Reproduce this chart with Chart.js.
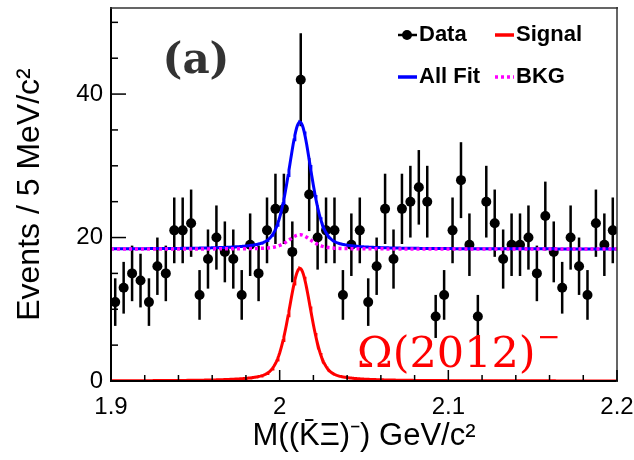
<!DOCTYPE html>
<html>
<head>
<meta charset="utf-8">
<script src="https://cdn.jsdelivr.net/npm/chart.js@4.4.0/dist/chart.umd.min.js"></script>
<style>
html,body{margin:0;padding:0;background:#fff;}
#wrap{position:relative;width:634px;height:460px;}
#wrap canvas{position:absolute;left:0;top:0;}
#frame{pointer-events:none;}
</style>
</head>
<body>
<div id="wrap">
<canvas id="grafico" width="634" height="460"></canvas>
<canvas id="frame" width="634" height="460"></canvas>
</div>
<script>
// DATA - events per 5 MeV bin, 1.9 to 2.2 GeV
const xMin = 1.9;
const xMax = 2.2;
const binWidth = 0.005;
const counts = [
11,13,15,14,11,16,15,21,21,22,12,17,20,18,17,12,19,15,21,24,
24,18,42,26,20,21,21,12,19,21,11,16,24,17,24,25,27,25,9,12,
21,28,19,9,25,22,17,19,19,20,15,23,18,13,20,16,12,22,19,21
];
const binCenters = counts.map((c,i)=>xMin + binWidth*(i+0.5));

// fit parameters
const peakMass = 2.012;
const peakFwhm = 0.016;
const lorentzFrac = 0.4;
const signalHeight = 15.7;
const bkgLevel = 18.4;
const bkgBump = 2.0;

// ticks
const yMajor = [0,20,40];
const yMinorStep = 5;
const yMax = 52;
const xMajor = [1.9,2.0,2.1,2.2];
const xTickLabels = ["1.9","2","2.1","2.2"];
const xMinorStep = 0.02;

// line shape (pseudo-Voigt, height 1 at the peak)
function peakShape(x){
const t = 2*(x-peakMass)/peakFwhm;
return lorentzFrac/(1+t*t) + (1-lorentzFrac)*Math.exp(-Math.LN2*t*t);
}

const curveX = [];
for(let i=0;i<=600;i++) curveX.push(xMin + i*(xMax-xMin)/600);
const sigCurve = curveX.map(x=>({x:x, y:signalHeight*peakShape(x)}));
const bkgCurve = curveX.map(x=>({x:x, y:bkgLevel + bkgBump*peakShape(x)}));
const allCurve = curveX.map(x=>({x:x, y:bkgLevel + (bkgBump+signalHeight)*peakShape(x)}));

/* =======================
   FRAME + TICKS (inside, ROOT style)
======================= */
function drawAxesBox(chart, ctx){
const xs = chart.scales.x, ys = chart.scales.y;
const L = xs.left, R = xs.right, T = ys.top, B = ys.bottom;
ctx.save();
ctx.fillStyle = "#000";
ctx.fillRect(L-1, T-1, 2, B-T+2);
ctx.fillRect(L-1, B-1, R-L+2, 2);
ctx.fillStyle = "#333";
ctx.fillRect(L-1, T-0.75, R-L+2, 1.5);
ctx.fillRect(R-0.75, T-1, 1.5, B-T+2);
ctx.fillStyle = "#000";
for(let v=0; v<=yMax; v+=yMinorStep){
const py = ys.getPixelForValue(v);
const len = yMajor.indexOf(v) >= 0 ? 15 : 7;
ctx.fillRect(L, py-0.75, len, 1.5);
}
const nx = Math.round((xMax-xMin)/xMinorStep);
for(let k=0; k<=nx; k++){
const v = xMin + k*xMinorStep;
const px = xs.getPixelForValue(v);
let major = false;
xMajor.forEach(m=>{ if(Math.abs(m-v)<1e-6) major = true; });
const len = major ? 11 : 6;
ctx.fillRect(px-0.75, B-len, 1.5, len);
}
ctx.restore();
}

/* =======================
   EXTRAS - error bars, legend, labels
======================= */
const extras = {
id:"extras",
beforeDatasetsDraw(chart){
const ctx = chart.ctx;
const xs = chart.scales.x, ys = chart.scales.y;
ctx.save();
ctx.fillStyle = "#000";
counts.forEach((c,i)=>{
const e = Math.sqrt(c);
const px = xs.getPixelForValue(binCenters[i]);
const y1 = ys.getPixelForValue(c+e);
const y2 = ys.getPixelForValue(Math.max(0,c-e));
ctx.fillRect(px-1.25, y1, 2.5, y2-y1);
});
ctx.restore();
},
afterDraw(chart){
const ctx = chart.ctx;
ctx.save();

// legend
const ds = chart.data.datasets;
ctx.font = "bold 22px 'Liberation Sans', Arial, sans-serif";
ctx.textBaseline = "middle";
const items = [
{d:ds[0], x:398, y:35},
{d:ds[1], x:495, y:35},
{d:ds[2], x:398, y:77},
{d:ds[3], x:495, y:77}
];
items.forEach(it=>{
ctx.strokeStyle = it.d.borderColor;
ctx.lineWidth = it.d.label==="Data" ? 2.5 : 3.5;
ctx.setLineDash(it.d.borderDash || []);
ctx.beginPath(); ctx.moveTo(it.x, it.y); ctx.lineTo(it.x+19, it.y); ctx.stroke();
ctx.setLineDash([]);
if(it.d.label==="Data"){
ctx.beginPath(); ctx.arc(it.x+9, it.y, 5, 0, Math.PI*2); ctx.fillStyle="#000"; ctx.fill();
}
ctx.fillStyle = "#000";
ctx.textAlign = "left";
ctx.fillText(it.d.label, it.x+21, it.y);
});

// (a)
ctx.font = "bold 42px 'DejaVu Serif', serif";
ctx.fillStyle = "#333";
ctx.textAlign = "center";
ctx.textBaseline = "alphabetic";
ctx.fillText("(a)", 196, 73);

// state label
ctx.fillStyle = "#ff0000";
ctx.textAlign = "left";
ctx.font = "43px 'DejaVu Serif', serif";
ctx.fillText("\u03A9(2012)", 357, 367);
ctx.font = "28px 'DejaVu Serif', serif";
ctx.fillText("\u2212", 537, 346);

ctx.restore();
},
afterRender(chart){
// frame and ticks on a top layer, placed by the chart's own scales
const fc = document.getElementById("frame").getContext("2d");
fc.clearRect(0,0,634,460);
drawAxesBox(chart, fc);
}
};

new Chart(document.getElementById("grafico"),{
type:"scatter",
data:{
datasets:[
{label:"Data", data:counts.map((c,i)=>({x:binCenters[i], y:c})), showLine:false,
 pointRadius:5, pointHoverRadius:5, backgroundColor:"#000", borderColor:"#000", borderWidth:0, order:4},
{label:"Signal", data:sigCurve, showLine:true, borderColor:"#ff0000", borderWidth:3, pointRadius:0, order:3},
{label:"All Fit", data:allCurve, showLine:true, borderColor:"#0000ff", borderWidth:3, pointRadius:0, order:2},
{label:"BKG", data:bkgCurve, showLine:true, borderColor:"#ff00ff", borderWidth:3.5, borderDash:[3,3], pointRadius:0, order:1}
]
},
options:{
responsive:false,
devicePixelRatio:1,
animation:false,
events:[],
layout:{padding:{top:8,right:17,left:0,bottom:0}},
plugins:{legend:{display:false}, tooltip:{enabled:false}},
scales:{
x:{
type:"linear", min:xMin, max:xMax,
afterBuildTicks:s=>{ s.ticks = xMajor.map(v=>({value:v})); },
afterFit:s=>{ s.height = 79; s.paddingLeft = 0; s.paddingRight = 0; },
grid:{display:false, drawTicks:false},
border:{display:false},
ticks:{callback:(v,i)=>xTickLabels[i], autoSkip:false, maxRotation:0, padding:12,
 color:"#000", font:{family:"'Liberation Sans', Arial, sans-serif", size:24}},
title:{display:true, text:"M((K\u0304\u039E)\u207B) GeV/c\u00B2", color:"#000",
 font:{family:"'Liberation Sans', Arial, sans-serif", size:31}, padding:{top:0,bottom:5}}
},
y:{
min:0, max:yMax,
afterBuildTicks:s=>{ s.ticks = yMajor.map(v=>({value:v})); },
afterFit:s=>{ s.width = 111; s.paddingTop = 0; s.paddingBottom = 0; },
grid:{display:false, drawTicks:false},
border:{display:false},
ticks:{padding:8, color:"#000", font:{family:"'Liberation Sans', Arial, sans-serif", size:24}},
title:{display:true, text:"Events / 5 MeV/c\u00B2", color:"#000",
 font:{family:"'Liberation Sans', Arial, sans-serif", size:32}, padding:{top:11,bottom:0}}
}
}
},
plugins:[extras]
});
</script>
</body>
</html>
